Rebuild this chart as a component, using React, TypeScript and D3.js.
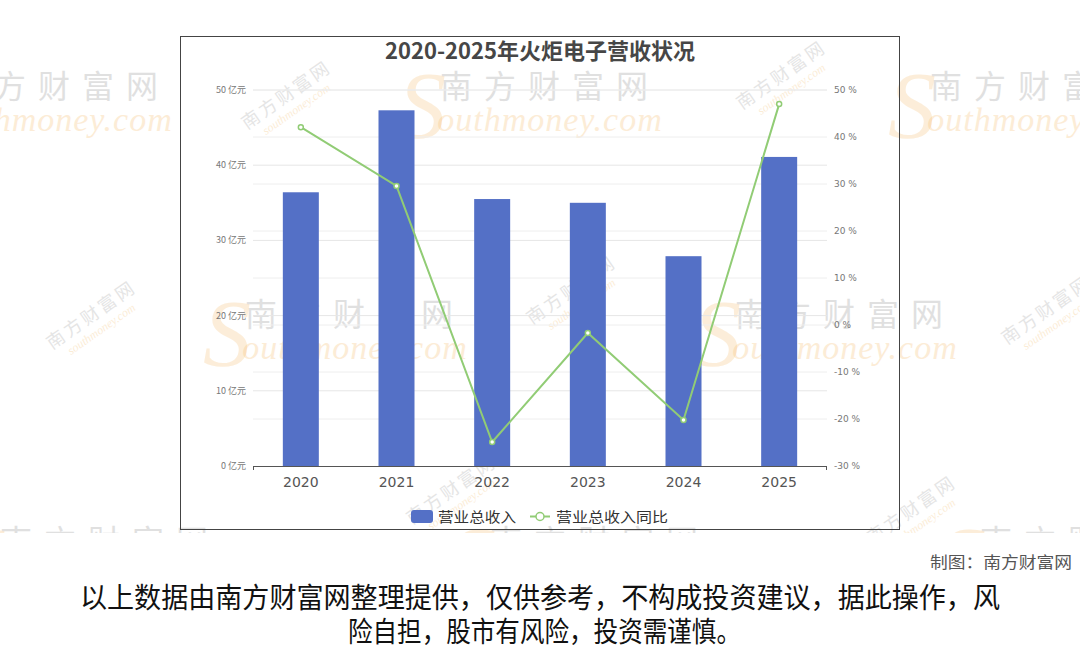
import React from 'react';
import * as d3 from 'd3';

const years = ['2020', '2021', '2022', '2023', '2024', '2025'];
const revenue = [36.4, 47.3, 35.5, 35.0, 27.9, 41.1]; // 亿元
const revenueYoY = [42.1, 29.6, -24.9, -1.7, -20.2, 47.0]; // %
const leftTicks = [0, 10, 20, 30, 40, 50];
const rightTicks = [-30, -20, -10, 0, 10, 20, 30, 40, 50];

const BAR = '#5470c6';
const LINE = '#91cc75';
const CJK = '"Noto Sans CJK SC", "Noto Sans", sans-serif';

// watermark spots (decoration only)
const bigMarks = [
  { x: 60, y: 98 }, { x: 550, y: 98 }, { x: 1040, y: 98 },
  { x: 355, y: 326 }, { x: 845, y: 326 },
  { x: 110, y: 553 }, { x: 600, y: 553 }, { x: 1090, y: 553 },
];
const smallMarks = [
  { x: 290, y: 100 }, { x: 785, y: 80 }, { x: 575, y: 295 }, { x: 95, y: 320 },
  { x: 1050, y: 315 }, { x: 915, y: 515 }, { x: 455, y: 495 },
];

export default function App() {
  const margin = { left: 253, right: 827, top: 90, bottom: 466 };

  const x = d3.scaleBand<string>().domain(years).range([margin.left, margin.right]).padding(0);
  const yL = d3.scaleLinear().domain([0, 50]).range([margin.bottom, margin.top]);
  const yR = d3.scaleLinear().domain([-30, 50]).range([margin.bottom, margin.top]);
  const barW = 36;
  const cx = (d: string) => (x(d) || 0) + x.bandwidth() / 2;

  const line = d3.line<number>()
    .x((_, i) => cx(years[i]))
    .y(d => yR(d));

  return (
    <svg width={1080} height={646} style={{ position: 'absolute', left: 0, top: 0, background: '#fff' }}
      fontFamily={CJK}>
      <defs>
        <clipPath id="wm-clip">
          <rect x={0} y={0} width={1080} height={533} />
        </clipPath>
      </defs>
      <rect x={0} y={0} width={1080} height={646} fill="#fff" />

      {/* watermarks */}
      <g clipPath="url(#wm-clip)">
        {bigMarks.map((m, i) => (
          <g key={'bm' + i}>
            <text x={m.x - 128} y={m.y + 40} textAnchor="middle" fontSize={96} fill="#f6c27a" opacity={0.28}
              fontStyle="italic" fontFamily='"Liberation Serif", serif'>S</text>
            <text x={m.x} y={m.y} textAnchor="middle" fontSize={32} fill="#a9a9a9" opacity={0.35} letterSpacing={12}>南方财富网</text>
            <text x={m.x} y={m.y + 33} textAnchor="middle" fontSize={34} fill="#f6c27a" opacity={0.3} fontStyle="italic"
              fontFamily='"Liberation Serif", serif' letterSpacing={1}>outhmoney.com</text>
          </g>
        ))}
        {smallMarks.map((m, i) => (
          <g key={'sm' + i} opacity={0.25} transform={`translate(${m.x},${m.y}) rotate(-35)`}>
            <text x={0} y={0} textAnchor="middle" fontSize={18} fill="#999" letterSpacing={3}>南方财富网</text>
            <text x={0} y={15} textAnchor="middle" fontSize={12} fill="#f3b660" fontStyle="italic"
              fontFamily='"Liberation Serif", serif'>southmoney.com</text>
          </g>
        ))}
      </g>

      {/* chart frame */}
      <rect x={180.5} y={36.5} width={719} height={493} fill="none" stroke="#444" strokeWidth={1} />

      {/* gridlines */}
      {leftTicks.slice(1).map(t => (
        <line key={'gl' + t} x1={margin.left} x2={margin.right} y1={yL(t)} y2={yL(t)} stroke="#e6e6e6" />
      ))}
      {rightTicks.slice(1).map(t => (
        <line key={'gr' + t} x1={margin.left} x2={margin.right} y1={yR(t)} y2={yR(t)} stroke="#eeeeee" />
      ))}

      {/* title */}
      <text x={540} y={59} textAnchor="middle" fontSize={22} fontWeight="bold" fill="#464646">
        2020-2025年火炬电子营收状况
      </text>

      {/* bars */}
      {revenue.map((v, i) => (
        <rect key={'b' + i} x={cx(years[i]) - barW / 2} y={yL(v)} width={barW} height={yL(0) - yL(v)} fill={BAR} />
      ))}

      {/* x axis */}
      <line x1={margin.left} x2={margin.right} y1={margin.bottom + 0.5} y2={margin.bottom + 0.5} stroke="#555" />
      <line x1={margin.left + 0.5} x2={margin.left + 0.5} y1={margin.bottom} y2={margin.bottom + 4} stroke="#555" />
      <line x1={margin.right - 0.5} x2={margin.right - 0.5} y1={margin.bottom} y2={margin.bottom + 4} stroke="#555" />
      {years.map(yv => (
        <text key={'xl' + yv} x={cx(yv)} y={487} textAnchor="middle" fontSize={14} fill="#555"
          fontFamily='"DejaVu Sans", sans-serif'>{yv}</text>
      ))}

      {/* left axis labels */}
      {leftTicks.map(t => (
        <text key={'ll' + t} x={246} y={yL(t) + 3} textAnchor="end" fontSize={9} fill="#777">{t} 亿元</text>
      ))}
      {/* right axis labels */}
      {rightTicks.map(t => (
        <text key={'rl' + t} x={834} y={yR(t) + 3} textAnchor="start" fontSize={9} fill="#777"
          fontFamily='"DejaVu Sans", sans-serif'>{t} %</text>
      ))}

      {/* line */}
      <path d={line(revenueYoY) || ''} fill="none" stroke={LINE} strokeWidth={2} />
      {revenueYoY.map((v, i) => (
        <circle key={'p' + i} cx={cx(years[i])} cy={yR(v)} r={2.5} fill="#fff" stroke={LINE} strokeWidth={1.5} />
      ))}

      {/* legend */}
      <rect x={411} y={510} width={22} height={13} rx={3} fill={BAR} />
      <text x={438} y={522} fontSize={14} fill="#333" textLength={78} lengthAdjust="spacingAndGlyphs">营业总收入</text>
      <line x1={530} x2={550} y1={516.5} y2={516.5} stroke={LINE} strokeWidth={2} />
      <circle cx={540} cy={516.5} r={4} fill="#fff" stroke={LINE} strokeWidth={1.5} />
      <text x={556} y={522} fontSize={14} fill="#333" textLength={112} lengthAdjust="spacingAndGlyphs">营业总收入同比</text>

      {/* source */}
      <text x={1072} y={568} textAnchor="end" fontSize={16} fill="#555" textLength={142} lengthAdjust="spacingAndGlyphs">
        制图：南方财富网
      </text>

      {/* disclaimer */}
      <text x={80} y={608} fontSize={28} fill="#111" textLength={920} lengthAdjust="spacingAndGlyphs">
        以上数据由南方财富网整理提供，仅供参考，不构成投资建议，据此操作，风
      </text>
      <text x={348} y={642} fontSize={28} fill="#111" textLength={393} lengthAdjust="spacingAndGlyphs">
        险自担，股市有风险，投资需谨慎。
      </text>
    </svg>
  );
}
